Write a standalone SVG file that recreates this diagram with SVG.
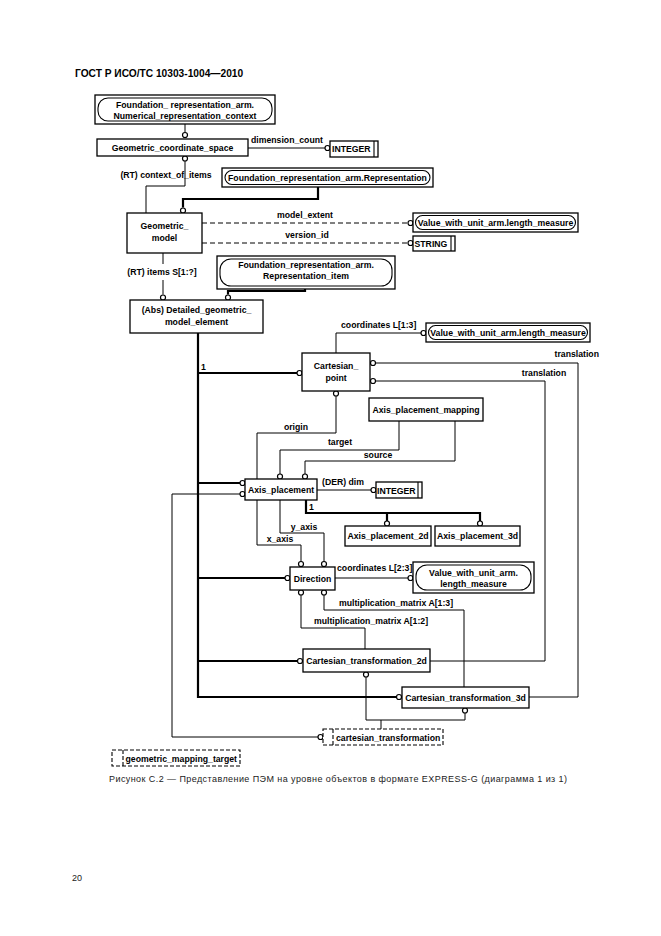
<svg xmlns="http://www.w3.org/2000/svg" width="661" height="936" viewBox="0 0 661 936">
<style>
.bg{fill:#fff}
.box{fill:#fff;stroke:#000;stroke-width:1.3}
.inner{fill:none;stroke:#000;stroke-width:1.1}
.sel{fill:#fff;stroke:#000;stroke-width:1.1;stroke-dasharray:4 2}
.ln{fill:none;stroke:#000;stroke-width:1}
.tk{fill:none;stroke:#000;stroke-width:2.2}
.ds{fill:none;stroke:#000;stroke-width:1;stroke-dasharray:5 3}
.c{fill:#fff;stroke:#000;stroke-width:1.2}
text{font-family:"Liberation Sans",Arial,sans-serif;font-size:8.7px;font-weight:bold;fill:#000}
.m{text-anchor:middle}
text.hd{font-size:10.2px}
text.cap{font-size:9px;font-weight:normal;fill:#222}
</style>
<rect class="bg" x="0" y="0" width="661" height="936"/>
<text class="hd" x="75" y="77">ГОСТ Р ИСО/ТС 10303-1004—2010</text>

<g id="connectors">
  <path class="ln" d="M185,124 V132"/>
  <circle class="c" cx="185" cy="135" r="2.5"/>
  <path class="ln" d="M248,148 H325"/>
  <circle class="c" cx="327.5" cy="148" r="2.5"/>
  <text x="251" y="143">dimension_count</text>
  <circle class="c" cx="185" cy="158.5" r="2.5"/>
  <path class="ln" d="M185,161 V186 H146 V213"/>
  <text class="m" x="166" y="178">(RT) context_of_items</text>
  <path class="tk" d="M318,187 V199 H183 V207.5"/>
  <circle class="c" cx="183" cy="210.5" r="2.5"/>
  <path class="ds" d="M202,223 H408"/>
  <circle class="c" cx="410.5" cy="223" r="2.5"/>
  <text class="m" x="305" y="218">model_extent</text>
  <path class="ds" d="M202,243 H408"/>
  <circle class="c" cx="410.5" cy="243" r="2.5"/>
  <text class="m" x="307" y="238">version_id</text>
  <path class="ln" d="M163,253 V264 M163,280 V294.5"/>
  <circle class="c" cx="163" cy="297.5" r="2.5"/>
  <text class="m" x="162" y="275">(RT) items S[1:?]</text>
  <path class="tk" d="M305,289 V291 H228 V294.5"/>
  <circle class="c" cx="228" cy="297.5" r="2.5"/>
  <path class="tk" d="M198,333 V697 H396.5"/>
  <path class="tk" d="M198,373 H297"/>
  <circle class="c" cx="299.5" cy="373" r="2.5"/>
  <text x="201" y="370">1</text>
  <path class="tk" d="M198,483 H240"/>
  <circle class="c" cx="242.5" cy="483" r="2.5"/>
  <path class="tk" d="M198,578 H285"/>
  <circle class="c" cx="287.5" cy="578" r="2.5"/>
  <path class="tk" d="M198,661 H297.5"/>
  <circle class="c" cx="300" cy="661" r="2.5"/>
  <circle class="c" cx="399" cy="697" r="2.5"/>
  <path class="ln" d="M336,353 V333 H421"/>
  <circle class="c" cx="423.5" cy="333" r="2.5"/>
  <text x="341" y="328">coordinates L[1:3]</text>
  <circle class="c" cx="373" cy="363" r="2.5"/>
  <path class="ln" d="M375.5,363 H578 V697 H529"/>
  <text x="599" y="357" text-anchor="end">translation</text>
  <circle class="c" cx="373" cy="381" r="2.5"/>
  <path class="ln" d="M375.5,381 H545 V661 H430"/>
  <text class="m" x="544" y="376">translation</text>
  <circle class="c" cx="336" cy="393.5" r="2.5"/>
  <path class="ln" d="M336,396 V433 H257 V479"/>
  <text class="m" x="296" y="430">origin</text>
  <path class="ln" d="M399,421 V450 H280 V474"/>
  <circle class="c" cx="280" cy="476.5" r="2.5"/>
  <text class="m" x="340" y="445">target</text>
  <path class="ln" d="M455,421 V461 H305 V474"/>
  <circle class="c" cx="305" cy="476.5" r="2.5"/>
  <text class="m" x="378" y="458">source</text>
  <circle class="c" cx="242.5" cy="494" r="2.5"/>
  <path class="ln" d="M240,494 H172 V737 H318"/>
  <circle class="c" cx="320.5" cy="737" r="2.5"/>
  <path class="ln" d="M317,490 H371"/>
  <circle class="c" cx="373.5" cy="490" r="2.5"/>
  <text x="322" y="485">(DER) dim</text>
  <path class="tk" d="M306,500 V513 H480 V521 M387,513 V521"/>
  <circle class="c" cx="387" cy="523.5" r="2.5"/>
  <circle class="c" cx="480" cy="523.5" r="2.5"/>
  <text x="309" y="510">1</text>
  <path class="ln" d="M280,500 V533 H324 V561.5"/>
  <circle class="c" cx="324" cy="564" r="2.5"/>
  <text class="m" x="304" y="529.5">y_axis</text>
  <path class="ln" d="M257,500 V545 H301 V561.5"/>
  <circle class="c" cx="301" cy="564" r="2.5"/>
  <text class="m" x="280" y="541.5">x_axis</text>
  <path class="ln" d="M335,578 H408"/>
  <circle class="c" cx="410.5" cy="578" r="2.5"/>
  <text x="337" y="571">coordinates L[2:3]</text>
  <circle class="c" cx="301" cy="592.5" r="2.5"/>
  <circle class="c" cx="324" cy="592.5" r="2.5"/>
  <path class="ln" d="M324,595 V610 H464 V687"/>
  <text class="m" x="396" y="606">multiplication_matrix A[1:3]</text>
  <path class="ln" d="M301,595 V628 H365 V649"/>
  <text class="m" x="371" y="624">multiplication_matrix A[1:2]</text>
  <circle class="c" cx="366" cy="674.5" r="2.5"/>
  <circle class="c" cx="465" cy="710.5" r="2.5"/>
  <path class="ln" d="M366,677 V720 H465 V713 M381,720 V729"/>
</g>

<g id="n_nrc">
  <rect class="box" x="95" y="95" width="180" height="29"/>
  <rect class="inner" x="98" y="98" width="174" height="23" rx="10"/>
  <text class="m" x="185" y="108">Foundation_ representation_arm.</text>
  <text class="m" x="185" y="119">Numerical_representation_context</text>
</g>
<g id="n_gcs">
  <rect class="box" x="97" y="139" width="151" height="17"/>
  <text class="m" x="172.5" y="151">Geometric_coordinate_space</text>
</g>
<g id="n_integer1">
  <rect class="box" x="330" y="141" width="48" height="16"/>
  <path class="inner" d="M374,141 V157"/>
  <text x="332" y="152">INTEGER</text>
</g>
<g id="n_rep">
  <rect class="box" x="222" y="168" width="211" height="19"/>
  <rect class="inner" x="225" y="170.5" width="205" height="14" rx="7"/>
  <text class="m" x="327.5" y="181">Foundation_representation_arm.Representation</text>
</g>
<g id="n_gm">
  <rect class="box" x="127" y="213" width="75" height="40"/>
  <text class="m" x="164.5" y="229">Geometric_</text>
  <text class="m" x="164.5" y="241">model</text>
</g>
<g id="n_vwu1">
  <rect class="box" x="413" y="213" width="165" height="19"/>
  <rect class="inner" x="415.5" y="215.5" width="160" height="14" rx="7"/>
  <text class="m" x="495.5" y="226">Value_with_unit_arm.length_measure</text>
</g>
<g id="n_string">
  <rect class="box" x="413" y="236" width="42" height="15"/>
  <path class="inner" d="M451,236 V251"/>
  <text x="414.5" y="246.5">STRING</text>
</g>
<g id="n_repitem">
  <rect class="box" x="217" y="256" width="178" height="33"/>
  <rect class="inner" x="220" y="259" width="172" height="27" rx="11"/>
  <text class="m" x="306" y="268">Foundation_representation_arm.</text>
  <text class="m" x="306" y="279">Representation_item</text>
</g>
<g id="n_dgme">
  <rect class="box" x="130" y="300" width="133" height="33"/>
  <text class="m" x="196.5" y="313">(Abs) Detailed_geometric_</text>
  <text class="m" x="196.5" y="325">model_element</text>
</g>
<g id="n_cp">
  <rect class="box" x="302" y="353" width="68" height="38"/>
  <text class="m" x="336" y="369">Cartesian_</text>
  <text class="m" x="336" y="381">point</text>
</g>
<g id="n_vwu2">
  <rect class="box" x="426" y="323" width="164" height="19"/>
  <rect class="inner" x="428.5" y="325.5" width="159" height="14" rx="7"/>
  <text class="m" x="508" y="336">Value_with_unit_arm.length_measure</text>
</g>
<g id="n_apm">
  <rect class="box" x="369" y="398" width="114" height="23"/>
  <text class="m" x="426" y="413">Axis_placement_mapping</text>
</g>
<g id="n_ap">
  <rect class="box" x="245" y="479" width="72" height="21"/>
  <text class="m" x="281" y="493">Axis_placement</text>
</g>
<g id="n_integer2">
  <rect class="box" x="376" y="482" width="46" height="16"/>
  <path class="inner" d="M418,482 V498"/>
  <text x="377" y="493.5">INTEGER</text>
</g>
<g id="n_ap2d">
  <rect class="box" x="345" y="526" width="86" height="20"/>
  <text class="m" x="388" y="539">Axis_placement_2d</text>
</g>
<g id="n_ap3d">
  <rect class="box" x="435" y="526" width="85" height="20"/>
  <text class="m" x="477.5" y="539">Axis_placement_3d</text>
</g>
<g id="n_dir">
  <rect class="box" x="290" y="567" width="45" height="23"/>
  <text class="m" x="312.5" y="581.5">Direction</text>
</g>
<g id="n_vwu3">
  <rect class="box" x="413" y="562" width="121" height="31"/>
  <rect class="inner" x="416" y="565" width="115" height="25" rx="11"/>
  <text class="m" x="473.5" y="576">Value_with_unit_arm.</text>
  <text class="m" x="473.5" y="587">length_measure</text>
</g>
<g id="n_ct2d">
  <rect class="box" x="303" y="649" width="127" height="23"/>
  <text class="m" x="366.5" y="664">Cartesian_transformation_2d</text>
</g>
<g id="n_ct3d">
  <rect class="box" x="402" y="687" width="127" height="21"/>
  <text class="m" x="465.5" y="700.5">Cartesian_transformation_3d</text>
</g>
<g id="n_ct">
  <rect class="sel" x="323" y="729" width="120" height="16"/>
  <path class="sel" d="M333,729 V745"/>
  <text x="336" y="740.5">cartesian_transformation</text>
</g>
<g id="n_gmt">
  <rect class="sel" x="112" y="750" width="128" height="16"/>
  <path class="sel" d="M123,750 V766"/>
  <text x="125.5" y="761.5">geometric_mapping_target</text>
</g>

<text class="cap" x="109" y="782" textLength="458">Рисунок С.2 — Представление ПЭМ на уровне объектов в формате EXPRESS-G (диаграмма 1 из 1)</text>
<text class="cap" x="72" y="881">20</text>
</svg>
